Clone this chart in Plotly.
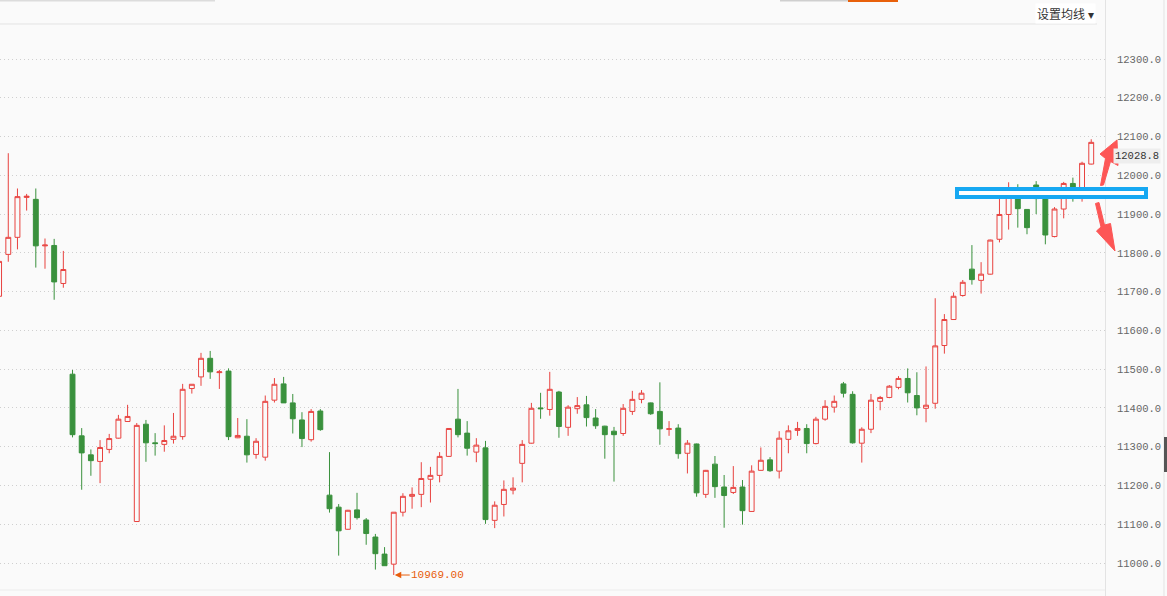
import plotly.graph_objects as go

# ---------------- data ----------------
opens = [11688, 11796, 11840, 11943, 11938, 11818, 11819, 11721, 11487, 11328,
         11279, 11262, 11293, 11322, 11365, 11107, 11358, 11310, 11306, 11319,
         11326, 11450, 11480, 11528, 11491, 11495, 11323, 11327, 11280, 11273,
         11420, 11462, 11413, 11369, 11318, 11392, 11175, 11144, 11087, 11137,
         11111, 11067, 11023, 10997, 11131, 11172, 11177, 11216, 11226, 11275,
         11371, 11335, 11286, 11297, 11110, 11151, 11188, 11257, 11309, 11400,
         11396, 11441, 11350, 11398, 11408, 11374, 11353, 11340, 11334, 11391,
         11422, 11413, 11391, 11345, 11348, 11283, 11307, 11177, 11255, 11196,
         11182, 11196, 11133, 11239, 11266, 11237, 11319, 11342, 11347, 11308,
         11371, 11402, 11462, 11435, 11309, 11345, 11417, 11427, 11453, 11476,
         11432, 11399, 11412, 11561, 11628, 11690, 11758, 11729, 11745, 11835,
         11899, 11962, 11912, 11975, 11950, 11842, 11913, 11979, 11955, 12029]
highs = [11782, 12057, 11966, 11952, 11966, 11837, 11836, 11805, 11498, 11348,
         11293, 11317, 11333, 11382, 11408, 11361, 11369, 11335, 11355, 11387,
         11462, 11461, 11542, 11547, 11498, 11502, 11374, 11371, 11322, 11432,
         11477, 11480, 11436, 11389, 11397, 11397, 11286, 11152, 11137, 11181,
         11116, 11075, 11041, 11131, 11180, 11195, 11260, 11248, 11286, 11348,
         11449, 11366, 11322, 11315, 11159, 11213, 11221, 11317, 11413, 11439,
         11493, 11444, 11407, 11428, 11431, 11397, 11354, 11351, 11410, 11444,
         11446, 11414, 11466, 11366, 11358, 11317, 11308, 11240, 11276, 11227,
         11250, 11214, 11252, 11298, 11273, 11340, 11355, 11364, 11358, 11377,
         11420, 11432, 11467, 11443, 11350, 11436, 11431, 11459, 11482, 11502,
         11492, 11507, 11683, 11642, 11698, 11730, 11820, 11776, 11834, 11941,
         11982, 11977, 11913, 11985, 11955, 11918, 11983, 11994, 12035, 12093]
lows = [11685, 11777, 11809, 11909, 11762, 11759, 11679, 11710, 11324, 11189,
        11225, 11206, 11283, 11321, 11364, 11106, 11261, 11277, 11287, 11308,
        11318, 11437, 11457, 11475, 11449, 11317, 11322, 11259, 11269, 11264,
        11414, 11413, 11334, 11299, 11313, 11341, 11130, 11019, 11086, 11112,
        11047, 10983, 10993, 10969, 11120, 11140, 11144, 11156, 11208, 11274,
        11324, 11277, 11260, 11101, 11090, 11120, 11177, 11208, 11308, 11372,
        11380, 11323, 11328, 11385, 11352, 11346, 11269, 11210, 11328, 11382,
        11412, 11382, 11305, 11328, 11269, 11231, 11171, 11168, 11168, 11091,
        11178, 11099, 11132, 11238, 11235, 11218, 11283, 11328, 11283, 11306,
        11367, 11388, 11427, 11308, 11259, 11335, 11394, 11425, 11448, 11414,
        11381, 11363, 11398, 11540, 11627, 11687, 11718, 11695, 11744, 11827,
        11860, 11865, 11848, 11900, 11822, 11840, 11889, 11932, 11932, 12028]
closes = [11778, 11840, 11945, 11946, 11818, 11820, 11725, 11757, 11331, 11284,
          11264, 11298, 11321, 11371, 11378, 11355, 11310, 11308, 11316, 11327,
          11448, 11461, 11528, 11493, 11493, 11326, 11329, 11279, 11314, 11417,
          11461, 11413, 11372, 11321, 11391, 11344, 11140, 11083, 11136, 11117,
          11076, 11024, 10993, 11131, 11172, 11177, 11218, 11226, 11275, 11347,
          11331, 11296, 11304, 11112, 11149, 11190, 11193, 11306, 11399, 11398,
          11448, 11352, 11402, 11406, 11375, 11354, 11331, 11331, 11399, 11422,
          11438, 11385, 11346, 11346, 11282, 11309, 11181, 11239, 11197, 11174,
          11195, 11135, 11237, 11265, 11238, 11322, 11341, 11347, 11308, 11371,
          11404, 11417, 11438, 11310, 11345, 11420, 11427, 11456, 11476, 11439,
          11400, 11407, 11560, 11628, 11688, 11724, 11731, 11745, 11833, 11899,
          11959, 11914, 11865, 11940, 11846, 11913, 11979, 11955, 12031, 12085]
bar_index = list(range(len(opens)))

ytick_vals = [11000 + 100 * k for k in range(14)]
ytick_text = [f"{v:.1f}" for v in ytick_vals]
last_price_label = "12028.8"
last_price_value = 12028.8
low_label_text = "10969.00"
menu_text = "设置均线 ▾"

# ---------------- styling / layout geometry ----------------
W, H = 1167, 596
PL, PR, PT, PB = 0, 1105, 25, 592          # plot area in pixels
Y_RANGE = [10925.2, 12387.7]
X_RANGE = [0.098, 120.5]
BG = "#fafafa"
RED = "#e8423f"
GREEN = "#3a913d"
GRID = "#cfcfcf"
BORDER = "#e3e3e3"
ORANGE = "#e85d0c"


def px(x):
    return (x - PL) / (PR - PL)


def py(y):
    return (PB - y) / (PB - PT)


def poly(points):
    d = "M " + " L ".join(f"{px(a):.5f},{py(b):.5f}" for a, b in points) + " Z"
    return d


fig = go.Figure(go.Candlestick(
    x=bar_index, open=opens, high=highs, low=lows, close=closes,
    increasing=dict(line=dict(color=RED, width=1), fillcolor=BG),
    decreasing=dict(line=dict(color=GREEN, width=1), fillcolor=GREEN),
    whiskerwidth=0, hoverinfo="skip", showlegend=False,
))

shapes = []
# chart borders
shapes.append(dict(type="line", xref="paper", yref="paper", x0=px(0), x1=px(1097),
                   y0=py(24), y1=py(24), line=dict(color=BORDER, width=1)))
shapes.append(dict(type="line", xref="paper", yref="paper", x0=px(0), x1=px(1105),
                   y0=py(590), y1=py(590), line=dict(color="#ececec", width=1)))
shapes.append(dict(type="line", xref="paper", yref="paper", x0=px(1105.5), x1=px(1105.5),
                   y0=py(0), y1=py(596), line=dict(color=BORDER, width=1)))
shapes.append(dict(type="line", xref="paper", yref="paper", x0=px(1164), x1=px(1164),
                   y0=py(0), y1=py(596), line=dict(color=BORDER, width=1)))
# top tab remnants
shapes.append(dict(type="line", xref="paper", yref="paper", x0=px(0), x1=px(215),
                   y0=py(0.5), y1=py(0.5), line=dict(color="#dcdcdc", width=2)))
shapes.append(dict(type="line", xref="paper", yref="paper", x0=px(780), x1=px(848),
                   y0=py(0.5), y1=py(0.5), line=dict(color="#cfcfcf", width=2)))
shapes.append(dict(type="line", xref="paper", yref="paper", x0=px(848), x1=px(898),
                   y0=py(0.5), y1=py(0.5), line=dict(color="#e8600a", width=3)))
# right scrollbar handle
shapes.append(dict(type="rect", xref="paper", yref="paper", x0=px(1164), x1=px(1167),
                   y0=py(472), y1=py(437), fillcolor="#555555", line=dict(width=0)))
# blue highlight box
shapes.append(dict(type="rect", xref="paper", yref="paper", x0=px(957), x1=px(1146),
                   y0=py(197), y1=py(189), fillcolor="white",
                   line=dict(color="#16a8f2", width=4), layer="above"))
# red arrows
ARROW = "#fd5656"
shapes.append(dict(type="path", xref="paper", yref="paper", layer="above",
                   path=poly([(1100.5, 185.5), (1103.5, 185), (1110.5, 161.5), (1118, 165.5),
                              (1117, 140), (1100, 154), (1105.5, 158.5)]),
                   fillcolor=ARROW, line=dict(color=ARROW, width=1)))
shapes.append(dict(type="path", xref="paper", yref="paper", layer="above",
                   path=poly([(1095.5, 203.5), (1099, 202.5), (1104.5, 225), (1110.5, 223.5),
                              (1115, 251), (1096.5, 231), (1101, 227)]),
                   fillcolor=ARROW, line=dict(color=ARROW, width=1)))

low_i = lows.index(min(lows))
annotations = [
    dict(x=bar_index[low_i], y=lows[low_i], xref="x", yref="y", text=low_label_text,
         showarrow=True, ax=16, ay=0, axref="pixel", ayref="pixel",
         xanchor="left", yanchor="middle", arrowhead=2, arrowsize=1.3, arrowwidth=1,
         arrowcolor=ORANGE, standoff=1, borderpad=0,
         font=dict(family="Liberation Mono", size=11, color=ORANGE)),
    dict(x=1, y=last_price_value, xref="paper", yref="y", text=last_price_label,
         showarrow=False, xanchor="left", yanchor="bottom", xshift=8,
         bgcolor="#eeeeee", borderpad=1,
         font=dict(family="Liberation Mono", size=10.5, color="#333333")),
    dict(x=px(1096), y=py(14), xref="paper", yref="paper", text=menu_text,
         showarrow=False, xanchor="right", yanchor="middle", bgcolor="white",
         font=dict(family="Noto Sans CJK SC", size=12, color="#333333")),
]

fig.update_layout(
    width=W, height=H,
    margin=dict(l=PL, r=W - PR, t=PT, b=H - PB, pad=0),
    paper_bgcolor=BG, plot_bgcolor=BG,
    boxgap=0.24,
    showlegend=False,
    hovermode=False,
    shapes=shapes,
    annotations=annotations,
    xaxis=dict(range=X_RANGE, visible=False, rangeslider=dict(visible=False),
               showgrid=False, zeroline=False),
    yaxis=dict(range=Y_RANGE, side="right", tickmode="array", tickvals=ytick_vals,
               ticktext=ytick_text, showgrid=True, gridcolor=GRID, griddash="1px,3px",
               gridwidth=1, zeroline=False, showline=False, ticks="",
               ticklabelstandoff=11,
               tickfont=dict(family="Liberation Mono", size=10.5, color="#666666")),
)

fig.write_html("out.html", config={"displayModeBar": False, "staticPlot": True},
               post_script="document.body.style.margin='0';document.body.style.overflow='hidden';")
